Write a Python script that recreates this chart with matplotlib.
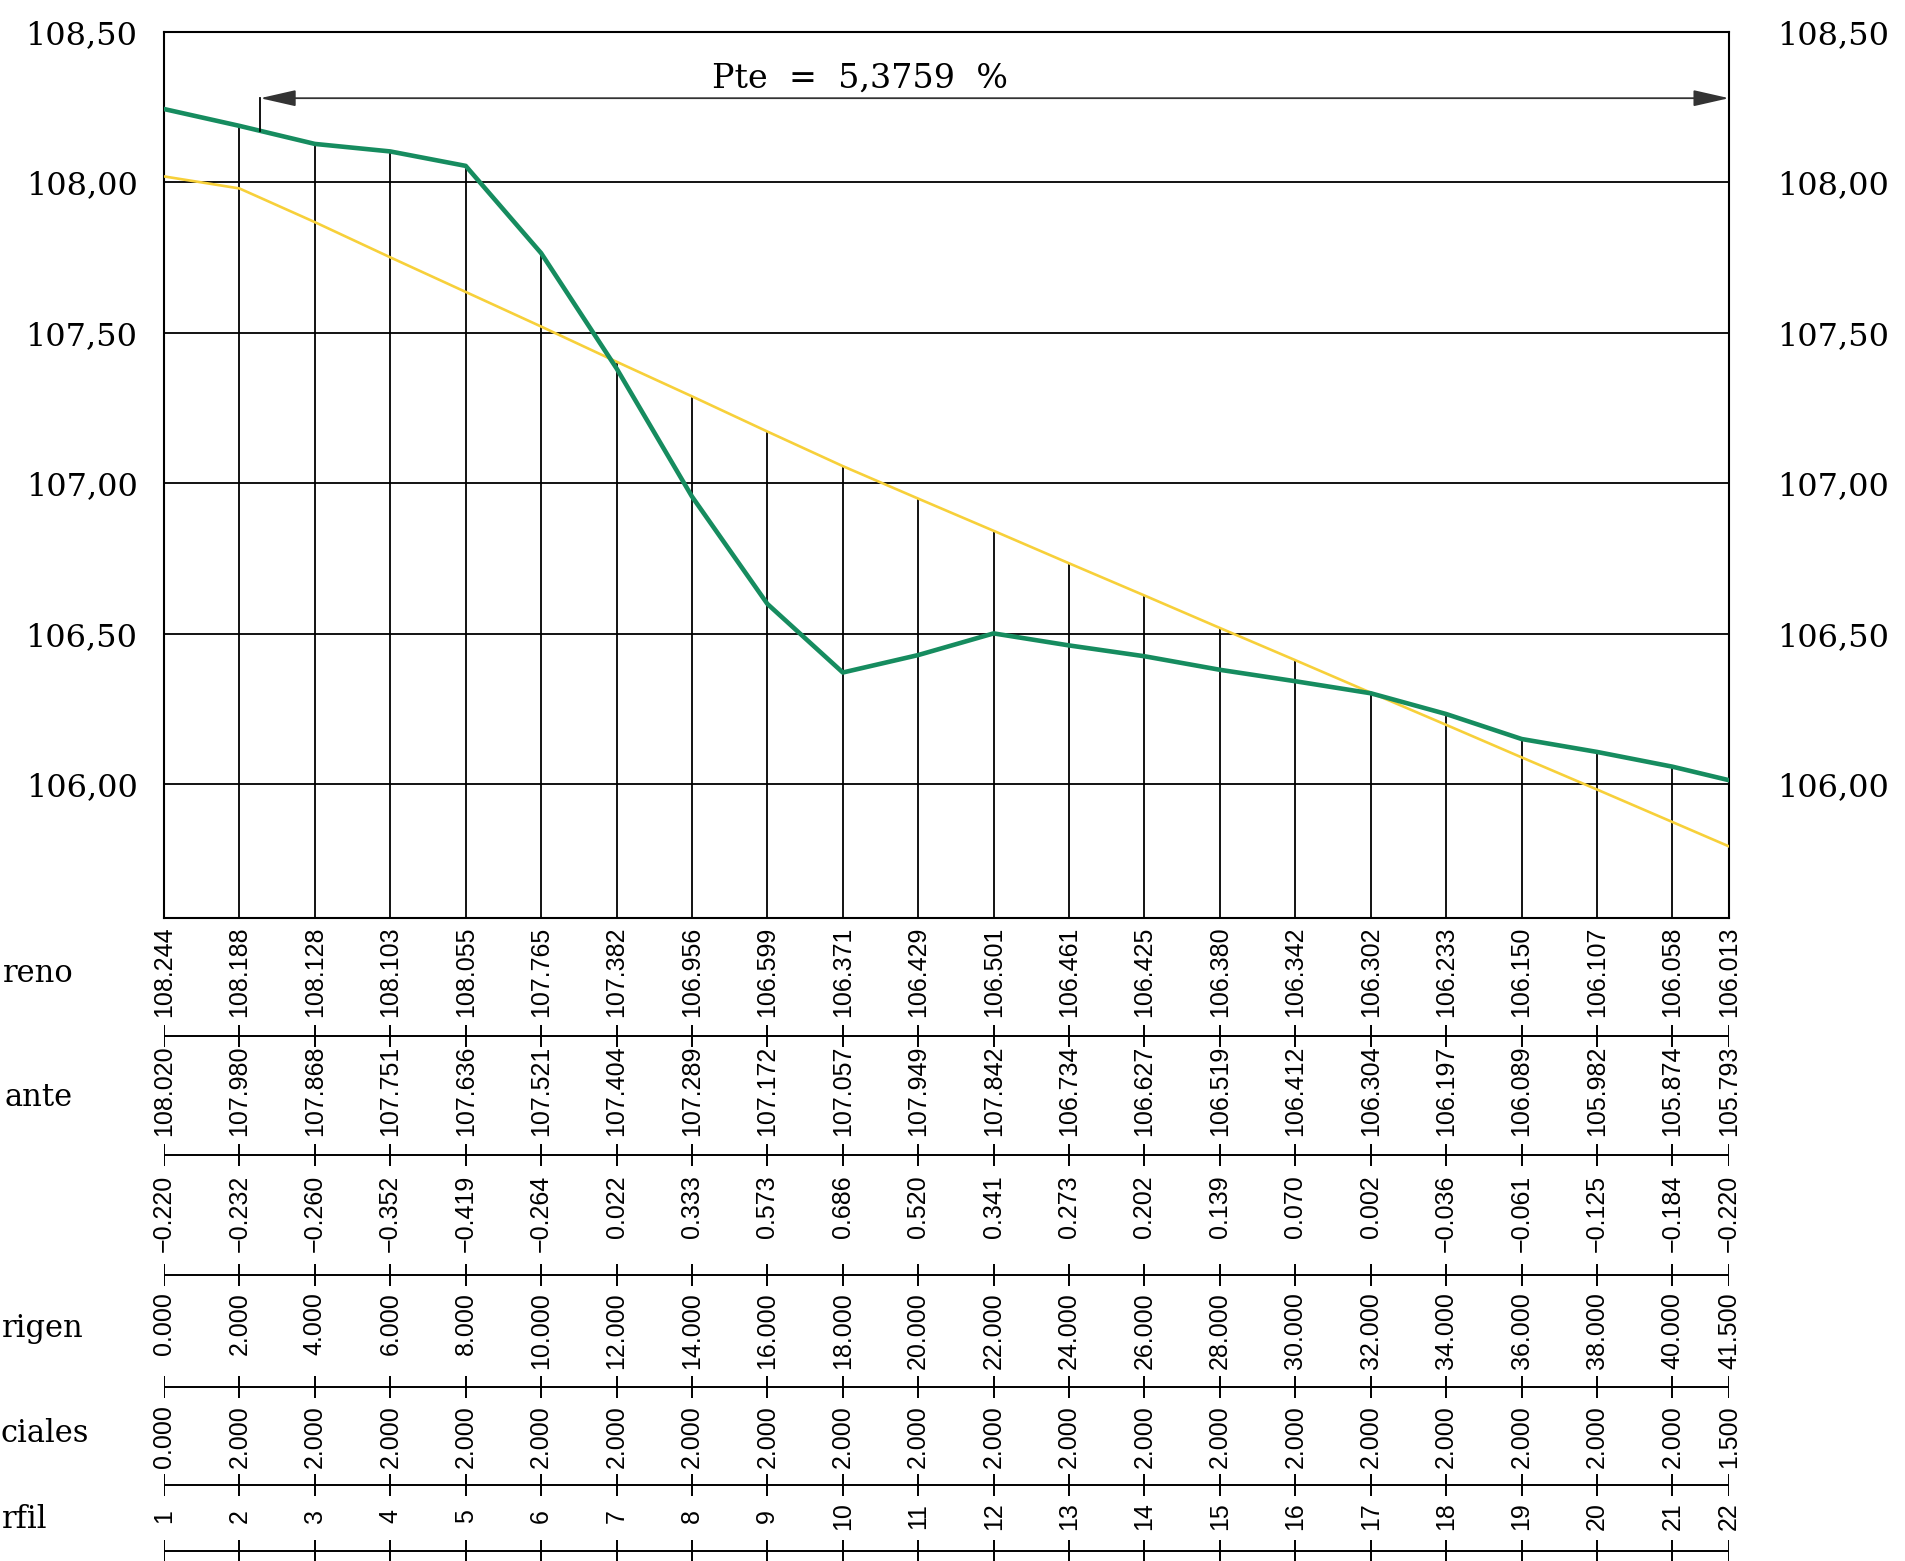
import matplotlib
matplotlib.use("Agg")
import matplotlib.pyplot as plt
from matplotlib.patches import FancyArrowPatch
import numpy as np

# --- data ---
perfil = list(range(1, 23))
dist_origen = [0.0, 2.0, 4.0, 6.0, 8.0, 10.0, 12.0, 14.0, 16.0, 18.0, 20.0,
               22.0, 24.0, 26.0, 28.0, 30.0, 32.0, 34.0, 36.0, 38.0, 40.0, 41.5]
dist_parcial = [0.0] + [2.0] * 20 + [1.5]
cota_terreno = [108.244, 108.188, 108.128, 108.103, 108.055, 107.765, 107.382,
                106.956, 106.599, 106.371, 106.429, 106.501, 106.461, 106.425,
                106.380, 106.342, 106.302, 106.233, 106.150, 106.107, 106.058,
                106.013]
cota_rasante = [108.020, 107.980, 107.868, 107.751, 107.636, 107.521, 107.404,
                107.289, 107.172, 107.057, 106.949, 106.842, 106.734, 106.627,
                106.519, 106.412, 106.304, 106.197, 106.089, 105.982, 105.874,
                105.793]
# the sheet prints two rasante values with a wrong metre digit
rasante_impreso = ["108.020", "107.980", "107.868", "107.751", "107.636",
                   "107.521", "107.404", "107.289", "107.172", "107.057",
                   "107.949", "107.842", "106.734", "106.627", "106.519",
                   "106.412", "106.304", "106.197", "106.089", "105.982",
                   "105.874", "105.793"]
diferencia = [-0.220, -0.232, -0.260, -0.352, -0.419, -0.264, 0.022, 0.333,
              0.573, 0.686, 0.520, 0.341, 0.273, 0.202, 0.139, 0.070, 0.002,
              -0.036, -0.061, -0.125, -0.184, -0.220]
y_ticks = [106.0, 106.5, 107.0, 107.5, 108.0, 108.5]
pendiente = "Pte  =  5,3759  %"
pte_inicio = 2.55
pte_cota = 108.28

W, H = 1906, 1561
GREEN = "#168c5f"
YELLOW = "#f7d03a"
SERIF = "DejaVu Serif"
SANS = "Liberation Sans"

fig = plt.figure(figsize=(W / 100, H / 100), dpi=100)

x_left, x_right = 164, 1729
y_top, y_bot = 32, 918
ax = fig.add_axes([x_left / W, 1 - y_bot / H, (x_right - x_left) / W, (y_bot - y_top) / H])
x0, x1 = dist_origen[0], dist_origen[-1]
ax.set_xlim(x0, x1)
ax.set_ylim(105.555, 108.5)

for s in ax.spines.values():
    s.set_linewidth(1.5)
ax.set_xticks([])
ax.set_yticks(y_ticks)
ax.set_yticklabels([f"{v:.2f}".replace(".", ",") for v in y_ticks],
                   family=SERIF, fontsize=23)
ax.tick_params(axis="y", length=0, pad=19)
ax.hlines(y_ticks[:-1], x0, x1, color="black", lw=1.3, zorder=1)

axr = ax.twinx()
axr.set_ylim(ax.get_ylim())
axr.set_yticks(y_ticks)
axr.set_yticklabels([f"{v:.2f}".replace(".", ",") for v in y_ticks],
                    family=SERIF, fontsize=23)
axr.tick_params(axis="y", length=0, pad=35)
for s in axr.spines.values():
    s.set_visible(False)

# station verticals up to the higher of the two profiles
tops = np.maximum(cota_terreno, cota_rasante)
ax.vlines(dist_origen[1:-1], 105.555, tops[1:-1], color="black", lw=1.3, zorder=1)

ax.plot(dist_origen, cota_rasante, color=YELLOW, lw=1.9, zorder=3)
ax.plot(dist_origen, cota_terreno, color=GREEN, lw=3.3, zorder=4)

# slope dimension line
arrow = FancyArrowPatch((pte_inicio, pte_cota), (x1, pte_cota),
                        arrowstyle="<|-|>,head_length=2.2,head_width=0.5",
                        mutation_scale=10, shrinkA=0, shrinkB=0,
                        color="#333333", lw=1.3, zorder=5, clip_on=False)
ax.add_patch(arrow)
ax.plot([pte_inicio, pte_inicio], [pte_cota, np.interp(pte_inicio, dist_origen, cota_terreno)],
        color="black", lw=1.3, zorder=5)
ax.text(18.45, 108.345, pendiente, family=SERIF, fontsize=24,
        ha="center", va="center")

# guitarra (data table) below the profile, y in pixel rows
axt = fig.add_axes([x_left / W, 0, (x_right - x_left) / W, 1 - y_bot / H])
axt.set_xlim(x0, x1)
axt.set_ylim(H, y_bot)
axt.axis("off")

fmt = lambda v: f"{v:.3f}".replace("-", "\u2212")
rows = [
    ([fmt(v) for v in cota_terreno], 1036, 1017, "bottom"),
    (rasante_impreso, 1155, 1136, "bottom"),
    ([fmt(v) for v in diferencia], 1275, 1175, "top"),
    ([fmt(v) for v in dist_origen], 1387, 1292, "top"),
    ([fmt(v) for v in dist_parcial], 1485, 1468, "bottom"),
    ([str(p) for p in perfil], 1551, 1516, "center"),
]
for labels, y_line, y_txt, va in rows:
    axt.hlines(y_line, x0, x1, color="black", lw=1.4)
    axt.vlines(dist_origen, y_line - 11, y_line + 11, color="black", lw=1.4)
    for xs, lab in zip(dist_origen, labels):
        axt.text(xs, y_txt, lab, rotation=90, ha="center", va=va,
                 family=SANS, fontsize=18)

# row captions at the left edge of the sheet
captions = [("reno", 3, 974), ("ante", 5, 1098), ("rigen", 2, 1328),
            ("ciales", 1, 1433), ("rfil", 2, 1520)]
for txt, xl, yc in captions:
    fig.text(xl / W, 1 - yc / H, txt, family=SERIF, fontsize=22,
             ha="left", va="center")

fig.savefig("out.png", dpi=100)
